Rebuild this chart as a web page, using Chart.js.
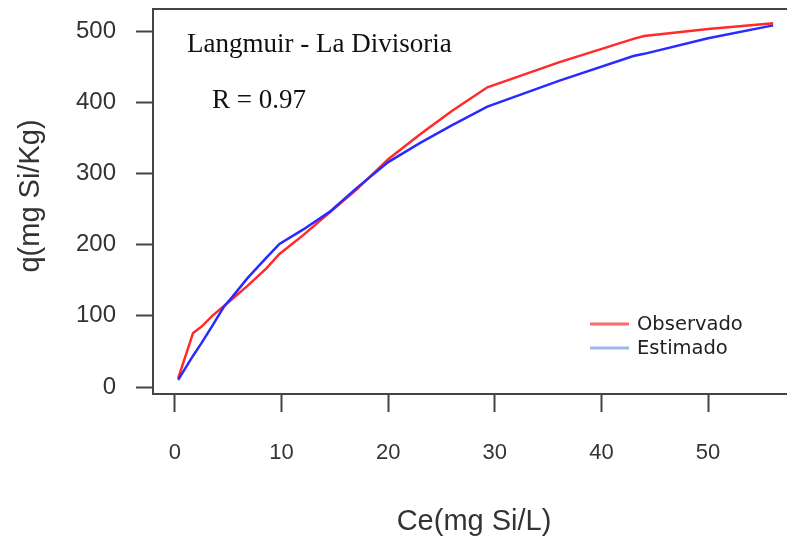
<!DOCTYPE html>
<html>
<head>
<meta charset="utf-8">
<script src="https://cdn.jsdelivr.net/npm/chart.js@4"></script>
<style>
  html, body { margin: 0; padding: 0; background: #fff; }
  #wrap { width: 787px; height: 548px; }
</style>
</head>
<body>
<div id="wrap"><canvas id="chart" width="787" height="548"></canvas></div>
<script>
// Ce values (mg Si/L) and adsorbed q (mg Si/Kg)
const ceValues   = [0.3, 1.7, 2.5, 3.5, 4.6, 5.4, 6.8, 8.6, 9.8, 12.0, 14.5, 17.0, 20.0, 23.0, 26.0, 29.3, 36.0, 43.0, 44.0, 50.0, 56.1];
const observado  = [12, 76, 85, 100, 114, 124, 142, 167, 187, 213, 245, 277, 320, 355, 388, 421, 456, 489, 493, 503, 511];
const estimado   = [10, 44, 62, 86, 113, 127, 153, 182, 201, 221, 246, 279, 316, 343, 368, 394, 430, 465, 468, 490, 508];
const xTicks = [0, 10, 20, 30, 40, 50];
const yTicks = [0, 100, 200, 300, 400, 500];

const seriesNames = ['Observado', 'Estimado'];
const lineColors = ['#ff2a2a', '#2a2aff'];
const legendColors = ['#ff6b6b', '#9db8e8'];

function toPoints(ys) {
  return ceValues.map((c, i) => ({ x: c, y: ys[i] }));
}

// texts, top frame line and the legend box drawn by hand
const extras = {
  id: 'extras',
  afterDraw(chart) {
    const ctx = chart.ctx;
    const area = chart.chartArea;
    ctx.save();
    ctx.strokeStyle = '#444';
    ctx.lineWidth = 2;
    ctx.beginPath();
    ctx.moveTo(area.left, area.top);
    ctx.lineTo(chart.width, area.top);
    ctx.stroke();

    ctx.fillStyle = '#111';
    ctx.font = '27px "Liberation Serif", "Times New Roman", serif';
    ctx.textAlign = 'left';
    ctx.textBaseline = 'alphabetic';
    ctx.fillText('Langmuir - La Divisoria', 187, 52);
    ctx.fillText('R = 0.97', 212, 108);

    // axis titles
    ctx.fillStyle = '#333';
    ctx.font = '29px "Liberation Sans", Arial, sans-serif';
    ctx.textAlign = 'center';
    ctx.textBaseline = 'middle';
    ctx.fillText('Ce(mg Si/L)', 474, 522);
    ctx.translate(31, 196);
    ctx.rotate(-Math.PI / 2);
    ctx.fillText('q(mg Si/Kg)', 0, 0);
    ctx.setTransform(1, 0, 0, 1, 0, 0);

    // legend
    ctx.font = '19.5px "DejaVu Sans", sans-serif';
    ctx.textAlign = 'left';
    ctx.textBaseline = 'middle';
    seriesNames.forEach((name, i) => {
      const y = 324 + i * 24;
      ctx.strokeStyle = legendColors[i];
      ctx.lineWidth = 3;
      ctx.beginPath();
      ctx.moveTo(590, y);
      ctx.lineTo(629, y);
      ctx.stroke();
      ctx.fillStyle = '#222';
      ctx.fillText(name, 637, y + 1);
    });
    ctx.restore();
  }
};

new Chart(document.getElementById('chart').getContext('2d'), {
  type: 'line',
  data: {
    datasets: [
      {
        label: seriesNames[1],
        data: toPoints(estimado),
        borderColor: lineColors[1],
        borderWidth: 2.5,
        pointRadius: 0,
        tension: 0
      },
      {
        label: seriesNames[0],
        data: toPoints(observado),
        borderColor: lineColors[0],
        borderWidth: 2.5,
        pointRadius: 0,
        tension: 0
      }
    ]
  },
  options: {
    responsive: false,
    devicePixelRatio: 1,
    animation: false,
    layout: { padding: { top: 9, right: 0, left: 0, bottom: 0 } },
    plugins: {
      legend: { display: false },
      tooltip: { enabled: false }
    },
    scales: {
      x: {
        type: 'linear',
        min: -2.06,
        max: 57.4,
        afterFit: s => { s.height = 154; s.paddingLeft = 0; s.paddingRight = 0; },
        afterBuildTicks: s => { s.ticks = xTicks.map(v => ({ value: v })); },
        grid: { drawOnChartArea: false, tickLength: 18, tickColor: '#444', tickWidth: 2 },
        border: { color: '#444', width: 2 },
        ticks: {
          color: '#333',
          padding: 28,
          maxRotation: 0,
          font: { family: '"Liberation Sans", Arial, sans-serif', size: 22 }
        }
      },
      y: {
        min: -9.8,
        max: 531,
        afterFit: s => { s.width = 153; s.paddingTop = 0; s.paddingBottom = 0; },
        afterBuildTicks: s => { s.ticks = yTicks.map(v => ({ value: v })); },
        grid: { drawOnChartArea: false, tickLength: 17, tickColor: '#444', tickWidth: 2 },
        border: { color: '#444', width: 2 },
        ticks: {
          color: '#333',
          padding: 20,
          font: { family: '"Liberation Sans", Arial, sans-serif', size: 24 }
        }
      }
    }
  },
  plugins: [extras]
});
</script>
</body>
</html>
